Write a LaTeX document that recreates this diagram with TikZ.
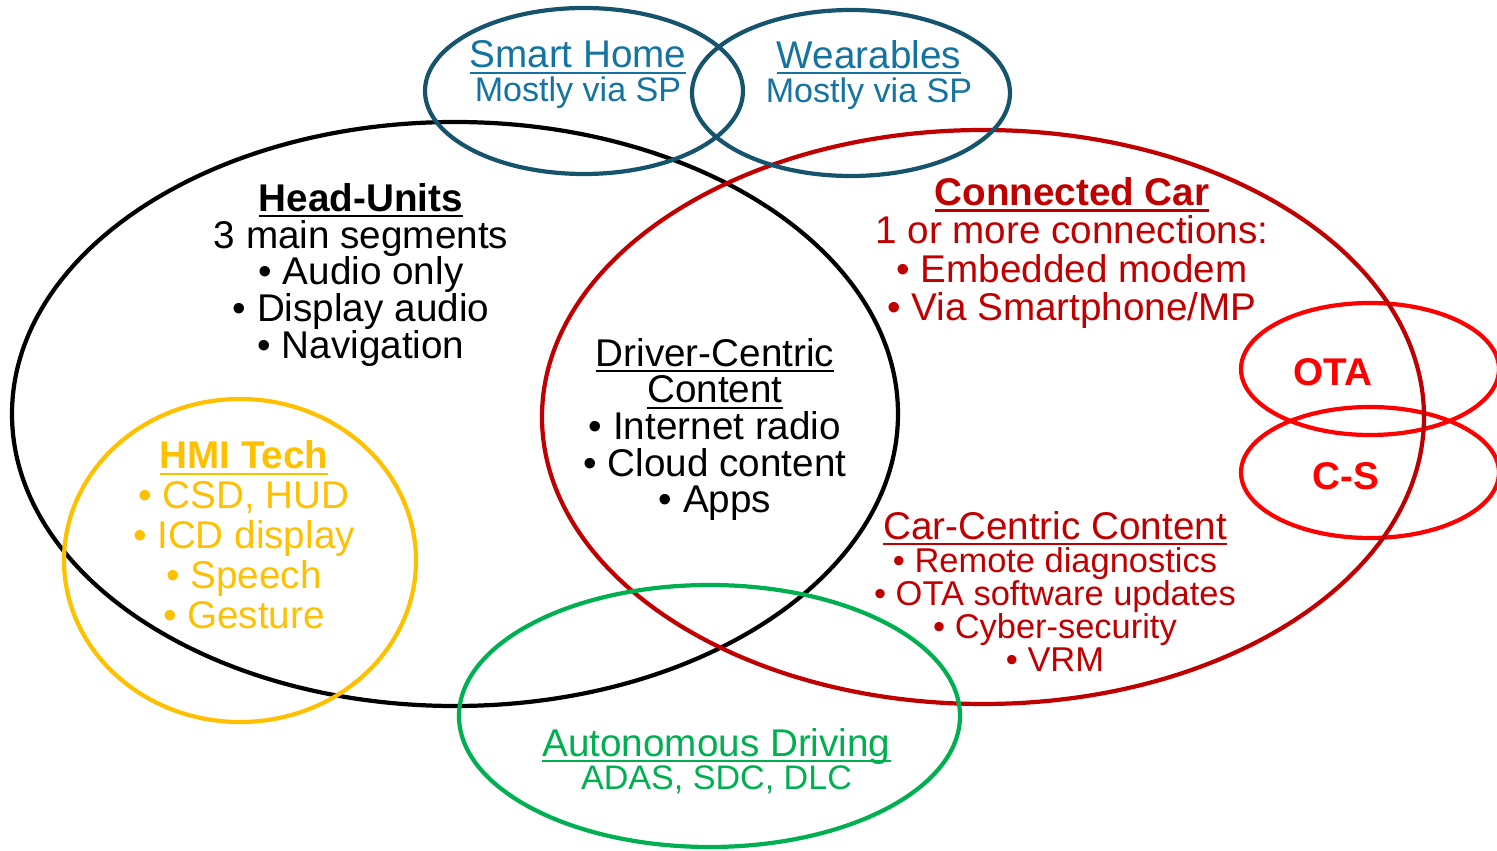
\documentclass[tikz,border=0pt]{standalone}
\usepackage{fontspec}
\setmainfont{Liberation Sans}
\usepackage{tikz}
\definecolor{tealline}{RGB}{22,84,110}
\definecolor{tealtext}{RGB}{20,115,160}
\definecolor{carred}{RGB}{192,0,0}
\definecolor{brightred}{RGB}{255,0,0}
\definecolor{hmiyellow}{RGB}{255,192,0}
\definecolor{autogreen}{RGB}{0,176,80}
\setlength{\lineskiplimit}{-20pt}
\newcommand{\undl}[1]{\setbox0\hbox{#1}\leavevmode\rlap{\rule[-1.7pt]{\wd0}{0.6pt}}\box0}
\newcommand{\smalltxt}{\fontsize{9.8}{9.4}\selectfont}
\newcommand{\subtxt}{\fontsize{9.7}{9.5}\selectfont}
\tikzstyle{ring}=[line width=1.2pt]
\tikzstyle{lbl}=[align=center,inner sep=0pt,font=\fontsize{11}{10.5}\selectfont]

\begin{document}
\begin{tikzpicture}
\useasboundingbox (0,0) rectangle (14.97,8.51);

% Head-Units
\draw[ring,black] (4.55,4.37) ellipse [x radius=4.43,y radius=2.92];

% OTA and C-S
\draw[ring,brightred] (13.70,4.82) ellipse [x radius=1.29,y radius=0.66];
\draw[ring,brightred] (13.70,3.785) ellipse [x radius=1.29,y radius=0.655];

% Connected Car
\draw[ring,carred] (9.83,4.34) ellipse [x radius=4.41,y radius=2.87];

% Smart Home and Wearables
\draw[ring,tealline] (5.84,7.60) ellipse [x radius=1.59,y radius=0.83];
\draw[ring,tealline] (8.51,7.58) ellipse [x radius=1.59,y radius=0.83];

% HMI Tech
\draw[ring,hmiyellow] (2.40,2.905) ellipse [x radius=1.76,y radius=1.615];

% Autonomous Driving
\draw[ring,autogreen] (7.095,1.35) ellipse [x radius=2.505,y radius=1.31];

% Labels
\node[lbl] (headunits) at (3.61,5.76)
  {\undl{\textbf{Head-Units}}\\3 main segments\\• Audio only\\• Display audio\\• Navigation};

\node[lbl,carred,font=\fontsize{11}{10.9}\selectfont] (connected) at (10.72,5.98)
  {\undl{\textbf{Connected Car}}\\1 or more connections:\\• Embedded modem\\• Via Smartphone/MP};

\node[lbl,font=\fontsize{11}{10.4}\selectfont] (driver) at (7.15,4.215)
  {\undl{Driver-Centric}\\\undl{Content}\\• Internet radio\\• Cloud content\\• Apps};

\node[lbl,hmiyellow,font=\fontsize{11}{11.4}\selectfont] (hmi) at (2.44,3.16)
  {\undl{\textbf{HMI Tech}}\\• CSD, HUD\\• ICD display\\• Speech\\• Gesture};

\node[lbl,carred,font=\fontsize{11}{9.4}\selectfont] (carcentric) at (10.55,2.595)
  {\undl{Car-Centric Content}\\\smalltxt • Remote diagnostics\\\smalltxt • OTA software updates\\
   \smalltxt • Cyber-security\\\smalltxt • VRM};

\node[lbl,autogreen,font=\fontsize{11}{9.4}\selectfont] (autonomous) at (7.165,0.90)
  {\undl{Autonomous Driving}\\\subtxt ADAS, SDC, DLC};

\node[lbl,tealtext,font=\fontsize{11}{9.65}\selectfont] (smarthome) at (5.78,7.76)
  {\undl{Smart Home}\\\subtxt Mostly via SP};
\node[lbl,tealtext,font=\fontsize{11}{9.65}\selectfont] (wearables) at (8.69,7.76)
  {\undl{Wearables}\\\subtxt Mostly via SP};

\node[lbl,brightred,font=\bfseries\fontsize{11}{11}\selectfont] (ota) at (13.33,4.79) {OTA};
\node[lbl,brightred,font=\bfseries\fontsize{11}{11}\selectfont] (cs) at (13.46,3.75) {C-S};

\end{tikzpicture}
\end{document}
